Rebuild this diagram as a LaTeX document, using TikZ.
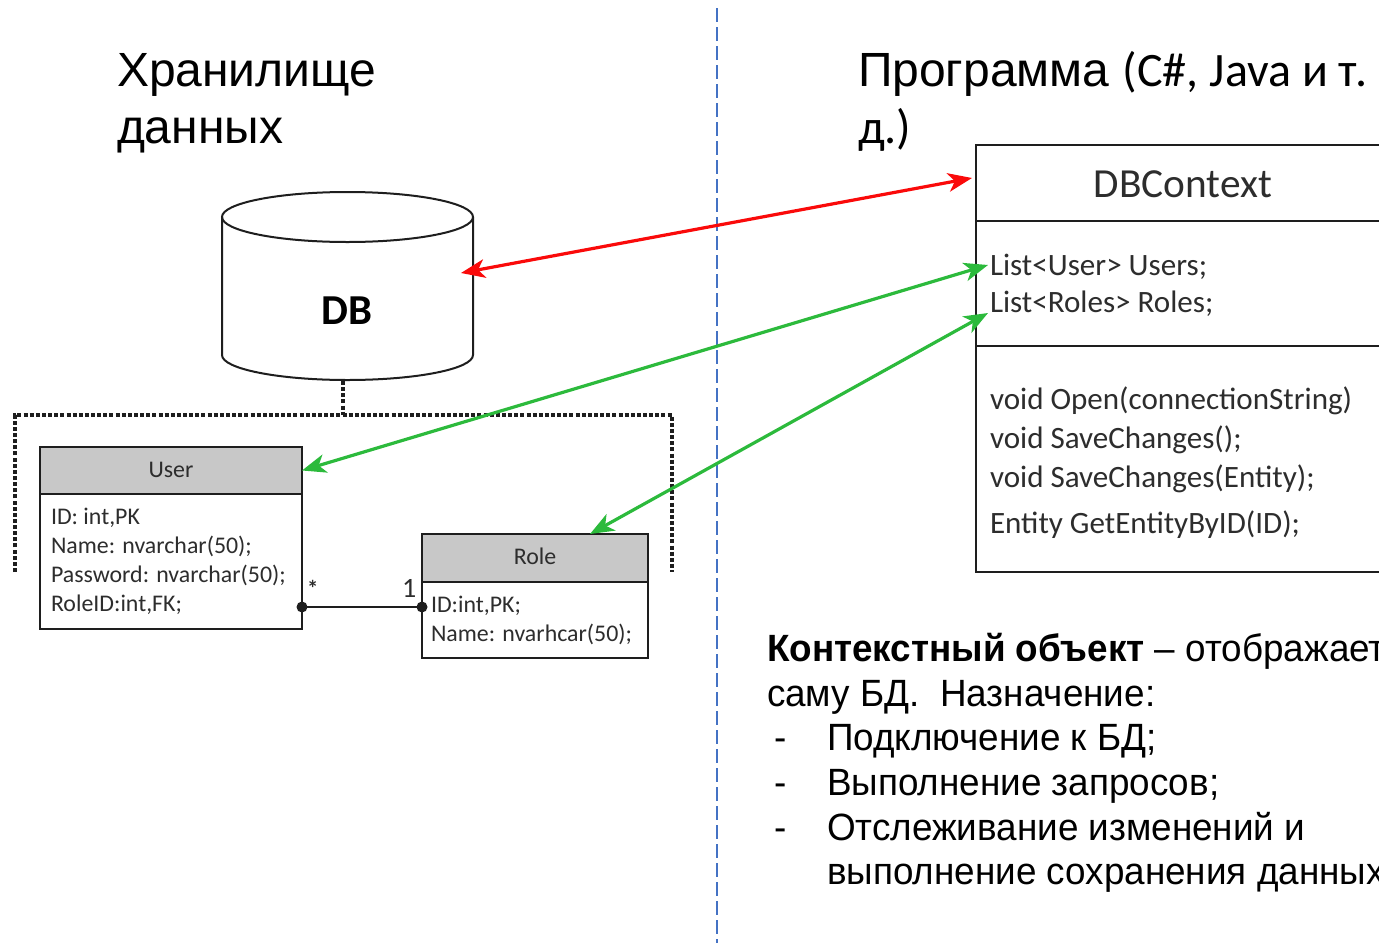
\documentclass[tikz,border=0pt]{standalone}
\usepackage{fontspec}
\setmainfont{Carlito}
\newfontfamily\arialf{Liberation Sans}
\newfontfamily\narrowf[FakeStretch=0.97]{Liberation Sans}
\usetikzlibrary{arrows.meta}
\definecolor{linkred}{RGB}{250,10,10}
\definecolor{linkgreen}{RGB}{44,186,60}
\definecolor{sepblue}{RGB}{68,114,196}
\definecolor{hdrgray}{RGB}{200,200,200}
\definecolor{txtgray}{RGB}{45,45,45}
\definecolor{edgec}{RGB}{30,30,30}
\begin{document}
\begin{tikzpicture}[x=0.75pt,y=-0.75pt,
  box/.style={draw=edgec, line width=1.5pt, inner sep=0pt, outer sep=0pt, anchor=north west},
  hdr/.style={box, fill=hdrgray},
  lbl/.style={inner sep=0pt, outer sep=0pt, anchor=base west, text=txtgray},
  tbl/.style={lbl, font=\fontsize{17.9}{21}\selectfont},
  ctxt/.style={lbl, font=\fontsize{23.3}{27}\selectfont},
  title/.style={inner sep=0pt, outer sep=0pt, anchor=base west, font=\arialf\fontsize{36}{43}\selectfont},
  note/.style={inner sep=0pt, outer sep=0pt, anchor=base west, font=\narrowf\fontsize{28.5}{33}\selectfont},
  redlink/.style={draw=linkred, line width=2.4pt, {Stealth[length=18pt,width=14pt,inset=5pt]}-{Stealth[length=18pt,width=14pt,inset=5pt]}},
  greenlink/.style={draw=linkgreen, line width=2.4pt, {Stealth[length=18pt,width=14pt,inset=5pt]}-{Stealth[length=18pt,width=14pt,inset=5pt]}},
  dotbox/.style={draw=edgec, line width=2.4pt, dash pattern=on 3pt off 1.6pt},
  sepline/.style={draw=sepblue, line width=1.1pt, dash pattern=on 10.5pt off 3.75pt}
]
\useasboundingbox (0,0) rectangle (1379,943);
\clip (0,0) rectangle (1379,943);

% separator
\coordinate (sepT) at (717,8);
\coordinate (sepB) at (717,943);
\draw[sepline] (sepT) -- (sepB);

% titles
\node[title] (t1) at (117,86) {Хранилище};
\node[title] (t2) at (117,143) {данных};
\node[title] (t3) at (858,86) {Программа {\setmainfont{Carlito}\normalfont(C\#, Java и т.}};
\node[title, font=\fontsize{36}{43}\selectfont] (t4) at (858,143) {д.)};

% DB cylinder
\draw[draw=edgec, line width=1.5pt, fill=white] (222,217) -- (222,355)
  arc[start angle=180, end angle=0, x radius=125.5, y radius=25] -- (473,217);
\draw[draw=edgec, line width=1.5pt] (347.5,217) ellipse [x radius=125.5, y radius=25];
\node[inner sep=0pt, font=\bfseries\fontsize{32}{37}\selectfont, text=black] (db) at (347,311) {DB};

% dotted grouping
\coordinate (dbB) at (343,381);
\coordinate (dotJ) at (343,415);
\coordinate (dotL) at (15,572);
\coordinate (dotTL) at (15,415);
\coordinate (dotTR) at (672,415);
\coordinate (dotR) at (672,572);
\draw[dotbox] (dbB) -- (dotJ);
\draw[dotbox] (dotL) -- (dotTL) -- (dotTR) -- (dotR);

% User table
\node[hdr, minimum width=196.5pt, minimum height=35.25pt] (userH) at (40,447) {};
\node[box, fill=white, minimum width=196.5pt, minimum height=101.25pt] (userB) at (40,494) {};
\node[tbl, anchor=base] (userT) at (171,477) {User};
\node[tbl] (u1) at (51,524) {ID: int,PK};
\node[tbl] (u2) at (51,553) {Name: nvarchar(50);};
\node[tbl] (u3) at (51,582) {Password: nvarchar(50);};
\node[tbl] (u4) at (51,611) {RoleID:int,FK;};

% Role table
\node[hdr, minimum width=169.5pt, minimum height=36pt] (roleH) at (422,534) {};
\node[box, fill=white, minimum width=169.5pt, minimum height=57pt] (roleB) at (422,582) {};
\node[tbl, anchor=base] (roleT) at (535,564) {Role};
\node[tbl] (r1) at (431,612) {ID:int,PK;};
\node[tbl] (r2) at (431,641) {Name: nvarhcar(50);};

% relation
\coordinate (uR) at (302,607);
\coordinate (rL) at (422,607);
\draw[edgec, line width=1.5pt] (uR) -- (rL);
\fill[edgec] (uR) circle[radius=5.5];
\fill[edgec] (rL) circle[radius=5.5];
\node[tbl, font=\bfseries\fontsize{17}{20}\selectfont] (star) at (307,596) {*};
\node[tbl, font=\fontsize{21}{24}\selectfont] (one) at (402,597) {1};

% DBContext
\node[box, line width=1.9pt, fill=white, minimum width=315pt, minimum height=57pt] (ctxH) at (976,145) {};
\node[box, line width=1.9pt, fill=white, minimum width=315pt, minimum height=93.75pt] (ctxF) at (976,221) {};
\node[box, line width=1.9pt, fill=white, minimum width=315pt, minimum height=169.5pt] (ctxM) at (976,346) {};
\node[lbl, anchor=base, font=\fontsize{31}{36}\selectfont] (ctxT) at (1183,197) {DBContext};
\node[ctxt] (f1) at (990,275) {List<User> Users;};
\node[ctxt] (f2) at (990,312) {List<Roles> Roles;};
\node[ctxt] (m1) at (990,409) {void Open(connectionString)};
\node[ctxt] (m2) at (990,448) {void SaveChanges();};
\node[ctxt] (m3) at (990,487) {void SaveChanges(Entity);};
\node[ctxt] (m4) at (990,533) {Entity GetEntityByID(ID);};

% links
\coordinate (dbR) at (461,273);
\coordinate (ctxR) at (972,178);
\coordinate (ctxU) at (988,265);
\coordinate (roleG) at (590,534);
\coordinate (ctxRo) at (988,313);
\draw[redlink] (dbR) -- (ctxR);
\draw[greenlink] (userH.east) -- (ctxU);
\draw[greenlink] (roleG) -- (ctxRo);

% note
\node[note] (n1) at (767,661) {\textbf{Контекстный объект} – отображает};
\node[note] (n2) at (767,706) {саму БД.\ \ Назначение:};
\node[note] (b1) at (774,750) {-};
\node[note] (n3) at (827,750) {Подключение к БД;};
\node[note] (b2) at (774,795) {-};
\node[note] (n4) at (827,795) {Выполнение запросов;};
\node[note] (b3) at (774,840) {-};
\node[note] (n5) at (827,840) {Отслеживание изменений и};
\node[note] (n6) at (827,884) {выполнение сохранения данных};
\end{tikzpicture}
\end{document}
